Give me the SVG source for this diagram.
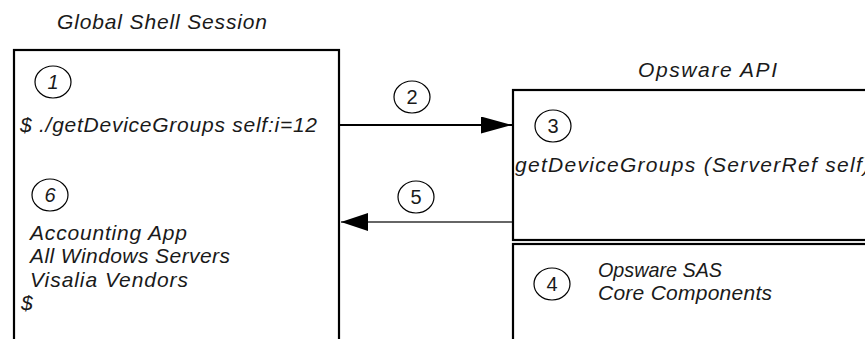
<svg xmlns="http://www.w3.org/2000/svg" width="865" height="339" viewBox="0 0 865 339">
<style>
text{font-family:"Liberation Sans",Arial,sans-serif;font-size:21px;font-style:italic;fill:#1a1a1a}
.num{font-style:normal;text-anchor:middle;font-size:20px}
.numi{font-style:italic;text-anchor:middle;font-size:20px}
.box{fill:none;stroke:#000;stroke-width:2.2}
.badge{fill:#fff;stroke:#000;stroke-width:1.2}
.conn{stroke:#000;stroke-width:2.2;fill:none}
.conn-thin{stroke:#333;stroke-width:1.3;fill:none}
</style>
<defs>
<marker id="head" viewBox="0 0 31 17" refX="31" refY="8.5" markerWidth="31" markerHeight="17" markerUnits="userSpaceOnUse" orient="auto">
<path d="M0,0 L31,8.5 L0,17 Z" fill="#000"/>
</marker>
<marker id="head2" viewBox="0 0 27 18" refX="27" refY="9" markerWidth="27" markerHeight="18" markerUnits="userSpaceOnUse" orient="auto">
<path d="M0,0 L27,9 L0,18 Z" fill="#000"/>
</marker>
</defs>
<rect width="865" height="339" fill="#fff"/>

<g id="global-shell-session">
<text x="57" y="29" textLength="210" lengthAdjust="spacing">Global Shell Session</text>
<rect class="box" x="14" y="50" width="325" height="310"/>
<ellipse class="badge" cx="53" cy="82" rx="18" ry="16"/>
<text class="numi" x="53" y="89">1</text>
<text x="20" y="132" textLength="297" lengthAdjust="spacing">$ ./getDeviceGroups self:i=12</text>
<ellipse class="badge" cx="50" cy="195" rx="18" ry="16"/>
<text class="numi" x="50" y="202">6</text>
<text x="30" y="240" textLength="157" lengthAdjust="spacing">Accounting App</text>
<text x="30" y="263" textLength="200" lengthAdjust="spacing">All Windows Servers</text>
<text x="30" y="287" textLength="158" lengthAdjust="spacing">Visalia Vendors</text>
<text x="21" y="310">$</text>
</g>

<g id="opsware-api">
<text x="638" y="77" textLength="139" lengthAdjust="spacing">Opsware API</text>
<rect class="box" x="513" y="90" width="370" height="150"/>
<ellipse class="badge" cx="553" cy="126" rx="18" ry="16"/>
<text class="num" x="553" y="133">3</text>
<text x="515" y="172" textLength="355" lengthAdjust="spacing">getDeviceGroups (ServerRef self)</text>
</g>

<g id="core-components">
<rect class="box" x="513" y="244" width="370" height="120"/>
<ellipse class="badge" cx="552" cy="284" rx="18" ry="16"/>
<text class="num" x="552" y="291">4</text>
<text x="598" y="277" textLength="124" lengthAdjust="spacingAndGlyphs">Opsware SAS</text>
<text x="598" y="300" textLength="174" lengthAdjust="spacing">Core Components</text>
</g>

<g id="connectors">
<line class="conn" x1="340" y1="125" x2="512" y2="125" marker-end="url(#head)"/>
<ellipse class="badge" cx="412" cy="97" rx="18" ry="16"/>
<text class="num" x="412" y="104">2</text>
<line class="conn-thin" x1="512" y1="222" x2="341" y2="222" marker-end="url(#head2)"/>
<ellipse class="badge" cx="416" cy="197" rx="18" ry="16"/>
<text class="num" x="416" y="204">5</text>
</g>
</svg>
